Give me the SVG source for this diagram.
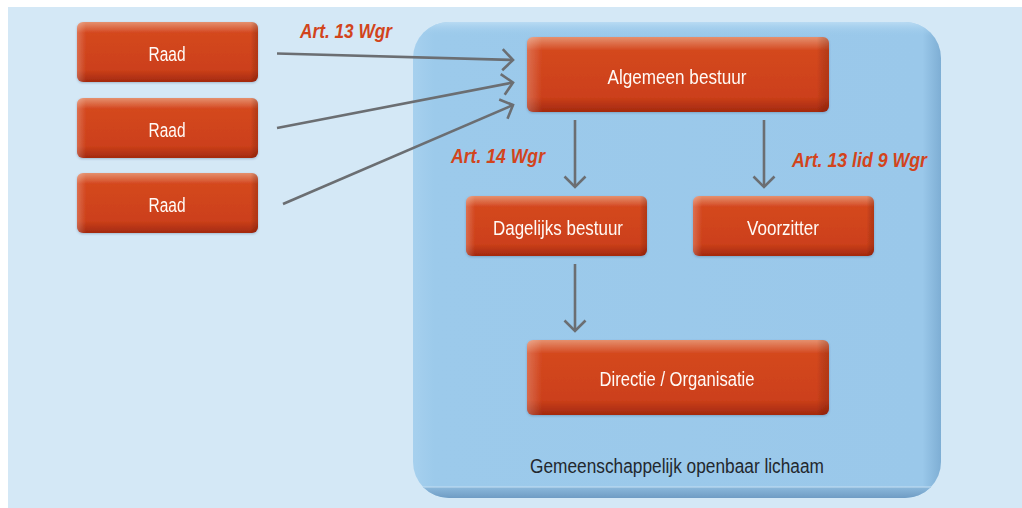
<svg xmlns="http://www.w3.org/2000/svg" width="1022" height="508" viewBox="0 0 1022 508">
<defs>
<style>
.box{fill:url(#gBox)}
.boxh{fill:url(#gBoxH)}
.lbl{font-family:"Liberation Sans",Arial,sans-serif;font-size:20px;fill:#fffaf6;text-anchor:middle}
.art{font-family:"Liberation Sans",Arial,sans-serif;font-size:20px;font-weight:bold;font-style:italic;fill:#d2441c}
.con{fill:none;stroke:#6b6e72;stroke-width:2.6;marker-end:url(#arr)}
</style>
<linearGradient id="gBox" x1="0" y1="0" x2="0" y2="1">
<stop offset="0" stop-color="#e5906e"/>
<stop offset="0.18" stop-color="#d4481f"/>
<stop offset="0.8" stop-color="#cc401a"/>
<stop offset="1" stop-color="#a3290f"/>
</linearGradient>
<linearGradient id="gBoxH" x1="0" y1="0" x2="1" y2="0">
<stop offset="0" stop-color="#ffffff" stop-opacity="0.22"/>
<stop offset="0.05" stop-color="#ffffff" stop-opacity="0"/>
<stop offset="0.96" stop-color="#000000" stop-opacity="0"/>
<stop offset="1" stop-color="#5a0e00" stop-opacity="0.25"/>
</linearGradient>
<linearGradient id="gCont" x1="0" y1="0" x2="1" y2="0">
<stop offset="0" stop-color="#a6d0ee"/>
<stop offset="0.04" stop-color="#9ccaeb"/>
<stop offset="0.965" stop-color="#9ac8ea"/>
<stop offset="1" stop-color="#7eaed4"/>
</linearGradient>
<linearGradient id="gContB" x1="0" y1="0" x2="0" y2="1">
<stop offset="0" stop-color="#8cb9dc"/>
<stop offset="1" stop-color="#6f9cc4"/>
</linearGradient>
<linearGradient id="gContT" x1="0" y1="0" x2="0" y2="1">
<stop offset="0" stop-color="#b9dbf3"/>
<stop offset="1" stop-color="#9ccaeb" stop-opacity="0"/>
</linearGradient>
<clipPath id="cCont"><rect x="413" y="22" width="528" height="476" rx="36" ry="36"/></clipPath>
<marker id="arr" markerUnits="userSpaceOnUse" markerWidth="24" markerHeight="24" refX="12" refY="12" orient="auto" viewBox="0 0 24 24">
<path d="M1.5,1.5 L12,12 L1.5,22.5" fill="none" stroke="#6b6e72" stroke-width="2.6"/>
</marker>
<filter id="sh" x="-5%" y="-10%" width="110%" height="130%">
<feDropShadow dx="0" dy="1" stdDeviation="1" flood-color="#2a4a6a" flood-opacity="0.3"/>
</filter>
</defs>
<rect x="0" y="0" width="1022" height="508" fill="#ffffff"/>
<rect x="8" y="7" width="1014" height="501" fill="#d4e8f6"/>

<g id="container">
<g clip-path="url(#cCont)">
<rect x="413" y="22" width="528" height="476" fill="url(#gCont)"/>
<rect x="413" y="22" width="528" height="14" fill="url(#gContT)"/>
<rect x="413" y="487" width="528" height="11" fill="url(#gContB)"/>
<line x1="413" y1="487" x2="941" y2="487" stroke="#c4def2" stroke-width="1"/>
</g>
<text x="677" y="473" style="font-family:'Liberation Sans',Arial,sans-serif;font-size:20px;fill:#23282e;text-anchor:middle" textLength="294" lengthAdjust="spacingAndGlyphs">Gemeenschappelijk openbaar lichaam</text>
</g>

<g id="connectors">
<line class="con" x1="277" y1="53.5" x2="513" y2="60"/>
<line class="con" x1="277" y1="128" x2="513" y2="82.5"/>
<line class="con" x1="283" y1="204" x2="513" y2="105"/>
<line class="con" x1="575" y1="120" x2="575" y2="187"/>
<line class="con" x1="764" y1="120" x2="764" y2="187"/>
<line class="con" x1="575" y1="264" x2="575" y2="331"/>
</g>

<g id="raad1" filter="url(#sh)">
<rect class="box" x="77" y="22" width="181" height="60" rx="6"/>
<rect class="boxh" x="77" y="22" width="181" height="60" rx="6"/>
<text class="lbl" x="167" y="61" textLength="37" lengthAdjust="spacingAndGlyphs">Raad</text>
</g>
<g id="raad2" filter="url(#sh)">
<rect class="box" x="77" y="98" width="181" height="60" rx="6"/>
<rect class="boxh" x="77" y="98" width="181" height="60" rx="6"/>
<text class="lbl" x="167" y="137" textLength="37" lengthAdjust="spacingAndGlyphs">Raad</text>
</g>
<g id="raad3" filter="url(#sh)">
<rect class="box" x="77" y="173" width="181" height="60" rx="6"/>
<rect class="boxh" x="77" y="173" width="181" height="60" rx="6"/>
<text class="lbl" x="167" y="212" textLength="37" lengthAdjust="spacingAndGlyphs">Raad</text>
</g>
<g id="algemeen" filter="url(#sh)">
<rect class="box" x="527" y="37" width="302" height="75" rx="6"/>
<rect class="boxh" x="527" y="37" width="302" height="75" rx="6"/>
<text class="lbl" x="677" y="84" textLength="139" lengthAdjust="spacingAndGlyphs">Algemeen bestuur</text>
</g>
<g id="dagelijks" filter="url(#sh)">
<rect class="box" x="466" y="196" width="181" height="60" rx="6"/>
<rect class="boxh" x="466" y="196" width="181" height="60" rx="6"/>
<text class="lbl" x="558" y="235" textLength="130" lengthAdjust="spacingAndGlyphs">Dagelijks bestuur</text>
</g>
<g id="voorzitter" filter="url(#sh)">
<rect class="box" x="693" y="196" width="181" height="60" rx="6"/>
<rect class="boxh" x="693" y="196" width="181" height="60" rx="6"/>
<text class="lbl" x="783" y="235" textLength="72" lengthAdjust="spacingAndGlyphs">Voorzitter</text>
</g>
<g id="directie" filter="url(#sh)">
<rect class="box" x="527" y="340" width="302" height="75" rx="6"/>
<rect class="boxh" x="527" y="340" width="302" height="75" rx="6"/>
<text class="lbl" x="677" y="386" textLength="155" lengthAdjust="spacingAndGlyphs">Directie / Organisatie</text>
</g>

<g id="labels">
<text class="art" x="300" y="38" textLength="92" lengthAdjust="spacingAndGlyphs">Art. 13 Wgr</text>
<text class="art" x="451" y="163" textLength="94" lengthAdjust="spacingAndGlyphs">Art. 14 Wgr</text>
<text class="art" x="792" y="167" textLength="135" lengthAdjust="spacingAndGlyphs">Art. 13 lid 9 Wgr</text>
</g>
</svg>
